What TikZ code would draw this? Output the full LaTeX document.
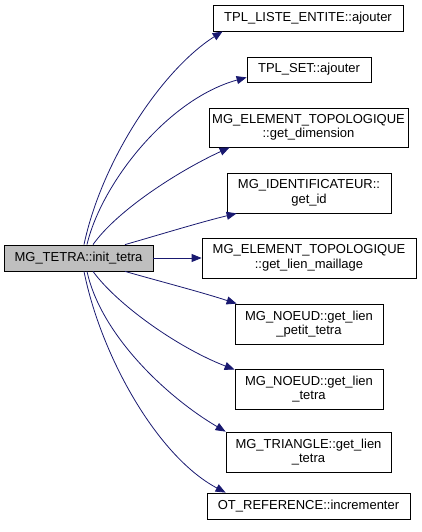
\documentclass[tikz,border=0pt]{standalone}
\usepackage{fontspec}
\setmainfont{Liberation Sans}
\usetikzlibrary{arrows.meta}
\definecolor{edgeblue}{HTML}{191970}

\begin{document}
\begin{tikzpicture}[
  x=1pt, y=1pt,
  box/.style={draw, line width=0.8pt, fill=white, inner sep=0pt, minimum height=40pt, align=center, font=\fontsize{13}{14.5}\selectfont},
  srcbox/.style={box, fill=gray!50, minimum height=26pt},
  arr/.style={-{Triangle[length=10pt, width=8pt]}, draw=edgeblue, line width=0.8pt}
]
\useasboundingbox (0,0) rectangle (421,-532);
\node[srcbox, minimum width=149pt] (m0) at (78.5,-258) {MG\_TETRA::init\_tetra};

\node[box, minimum width=190pt, minimum height=26pt] (m1) at (308,-18) {TPL\_LISTE\_ENTITE::ajouter};
\node[box, minimum width=124pt, minimum height=25pt] (m2) at (309,-69.5) {TPL\_SET::ajouter};
\node[box, minimum width=199pt, minimum height=39pt] (m3) at (308.5,-127.5) {MG\_ELEMENT\_TOPOLOGIQUE\\::get\_dimension};
\node[box, minimum width=164pt] (m4) at (309,-193) {MG\_IDENTIFICATEUR::\\get\_id};
\node[box, minimum width=214pt] (m5) at (309,-258) {MG\_ELEMENT\_TOPOLOGIQUE\\::get\_lien\_maillage};
\node[box, minimum width=148pt] (m6) at (309,-324) {MG\_NOEUD::get\_lien\\\_petit\_tetra};
\node[box, minimum width=148pt] (m7) at (309,-389) {MG\_NOEUD::get\_lien\\\_tetra};
\node[box, minimum width=165pt] (m8) at (308.5,-452) {MG\_TRIANGLE::get\_lien\\\_tetra};
\node[box, minimum width=203pt, minimum height=26pt] (m9) at (308.5,-506) {OT\_REFERENCE::incrementer};

% calls, top to bottom
\draw[arr] ([xshift=5.5pt]m0.north) .. controls +(18,85) and +(-60,-38) .. ([xshift=10pt]m1.south west);
\draw[arr] ([xshift=8.5pt]m0.north) .. controls +(14,60) and +(-80,-22) .. ([yshift=5pt]m2.south west);
\draw[arr] ([xshift=14.5pt]m0.north) .. controls +(24,34) and +(-52,-24) .. ([xshift=21pt]m3.south west);
\draw[arr] ([xshift=46.5pt]m0.north) .. controls +(35,10) and +(-37,-9) .. ([xshift=10pt]m4.south west);
\draw[arr] (m0.east) -- (m5.west);
\draw[arr] ([xshift=46.5pt]m0.south) .. controls +(35,-10) and +(-37,12) .. ([xshift=2pt]m6.north west);
\draw[arr] ([xshift=14.5pt]m0.south) .. controls +(24,-33) and +(-57,22) .. ([yshift=-1pt]m7.north west);
\draw[arr] ([xshift=8.5pt]m0.south) .. controls +(14,-64) and +(-58,34) .. (m8.north west);
\draw[arr] ([xshift=5.5pt]m0.south) .. controls +(17,-85) and +(-68,36) .. ([xshift=19pt]m9.north west);
\end{tikzpicture}
\end{document}
